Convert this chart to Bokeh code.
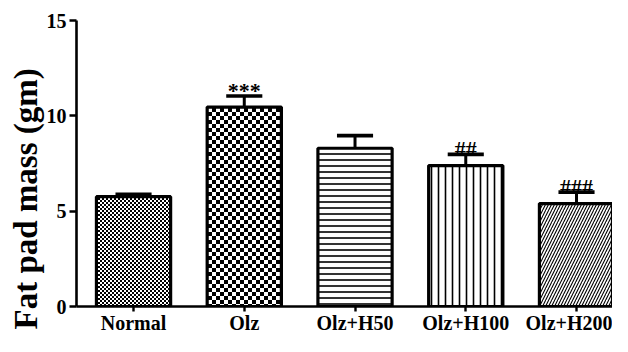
from bokeh.plotting import figure
from bokeh.models import ColumnDataSource, Range1d, FixedTicker, CanvasTexture, Title
from bokeh.core.properties import value
from bokeh.embed import file_html
from bokeh.resources import INLINE

categories = ["Normal", "Olz", "Olz+H50", "Olz+H100", "Olz+H200"]
means = [5.76, 10.46, 8.30, 7.39, 5.40]
sems = [0.13, 0.58, 0.66, 0.59, 0.60]
marks = ["", "***", "", "##", "###"]
y_ticks = [0, 5, 10, 15]
y_label = "Fat pad mass (gm)"

# styles (per bar)
patterns = ["chk_fine", "chk_coarse", "horizontal_line", "vertical_line", "right_diagonal_line"]
pattern_scales = [4, 8, 6, 7, 6]
pattern_weights = [1, 1, 1.6, 1.6, 1.1]

FONT = "Liberation Serif"
BAR_W = 0.67
CAP = 0.163

xs = list(range(len(categories)))
upper = [m + s for m, s in zip(means, sems)]
src = ColumnDataSource(dict(
    x=xs, top=means, upper=upper,
    cap_l=[x - CAP for x in xs], cap_r=[x + CAP for x in xs],
    pat=patterns, psc=pattern_scales, psw=pattern_weights, mark=marks,
))


def checker(size):
    return f"""
var s = {size};
ctx.canvas.width = s;
ctx.canvas.height = s;
ctx.clearRect(0, 0, s, s);
ctx.fillStyle = "#000000";
ctx.fillRect(0, 0, s/2, s/2);
ctx.fillRect(s/2, s/2, s/2, s/2);
"""


extra = {
    "chk_fine": CanvasTexture(code=checker(4)),
    "chk_coarse": CanvasTexture(code=checker(8)),
}

p = figure(width=612, height=336, output_backend="svg", toolbar_location=None,
           x_range=Range1d(-0.515, 4.325), y_range=Range1d(0, 15),
           min_border_left=76, min_border_right=0, min_border_top=20, min_border_bottom=28)
p.outline_line_color = None
p.xgrid.visible = False
p.ygrid.visible = False
p.background_fill_color = "white"
p.border_fill_color = "white"

p.vbar(x="x", top="top", bottom=0, width=BAR_W, source=src,
       fill_color="white", line_color="black", line_width=3.2,
       hatch_pattern="pat", hatch_scale="psc", hatch_weight="psw", hatch_color="black",
       hatch_extra=extra)

p.segment(x0="x", y0="top", x1="x", y1="upper", source=src, line_color="black", line_width=3)
p.segment(x0="cap_l", y0="upper", x1="cap_r", y1="upper", source=src, line_color="black", line_width=3.6)

p.text(x="x", y="upper", text="mark", source=src, text_align="center",
       text_baseline="alphabetic", y_offset=-6, text_font=value(FONT),
       text_font_style="bold", text_font_size="22px", text_color="black")

for ax in (p.xaxis[0], p.yaxis[0]):
    ax.axis_line_width = 2.6
    ax.axis_line_color = "black"
    ax.major_tick_line_width = 2.4
    ax.major_tick_line_color = "black"
    ax.major_tick_in = 0
    ax.minor_tick_line_color = None
    ax.major_label_text_font = FONT
    ax.major_label_text_font_style = "bold"
    ax.major_label_text_font_size = "20px"
    ax.major_label_text_color = "black"

p.xaxis.ticker = FixedTicker(ticks=xs)
p.xaxis.major_label_overrides = {i: c for i, c in enumerate(categories)}
p.xaxis.major_tick_out = 5
p.xaxis.major_label_standoff = 0

yax = p.yaxis[0]
yax.ticker = FixedTicker(ticks=y_ticks)
yax.major_tick_out = 7
yax.major_label_standoff = 3

ytitle = Title(text=y_label, align="left", offset=-23, standoff=0,
               text_font=FONT, text_font_style="bold", text_font_size="33px",
               text_color="black")
p.add_layout(ytitle, "left")

open("out.html", "w").write(file_html(p, INLINE))
